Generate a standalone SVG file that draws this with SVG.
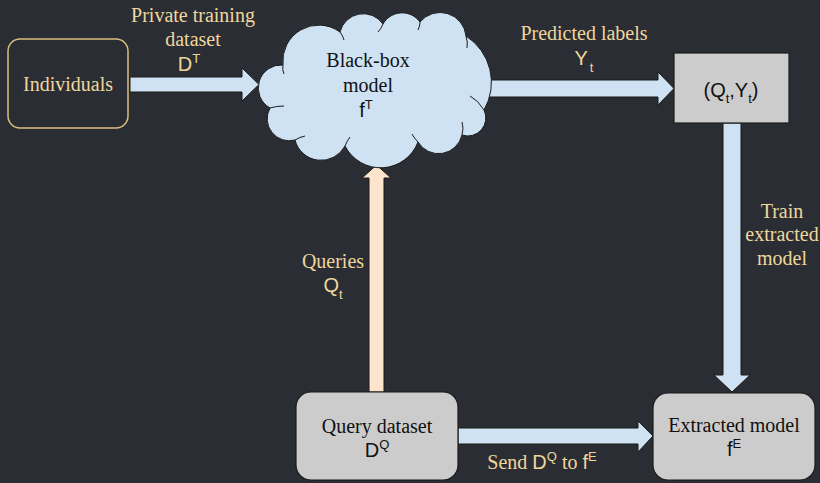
<svg xmlns="http://www.w3.org/2000/svg" width="820" height="483" viewBox="0 0 820 483">
<style>
.lbl{font-family:'Liberation Serif','DejaVu Serif',serif;font-size:20px;fill:#efd79c;text-anchor:middle}
.lbls{font-family:'Liberation Sans',Arial,sans-serif;font-size:20px;fill:#efd79c;text-anchor:middle}
.ntx{font-family:'Liberation Serif','DejaVu Serif',serif;font-size:20px;fill:#111;text-anchor:middle}
.nts{font-family:'Liberation Sans',Arial,sans-serif;font-size:20px;fill:#111;text-anchor:middle}
.ss{font-family:'Liberation Sans',Arial,sans-serif}
.sm{font-size:13px}
.blue{fill:#cfe2f3;stroke:#1b1b1b;stroke-width:1}
.peach{fill:#fde5cd;stroke:#1b1b1b;stroke-width:1}
.box{fill:#cccccc;stroke:#1b1b1b;stroke-width:1.2}
</style>
<rect width="820" height="483" fill="#2b2d34"/>
<g id="connectors">
<polygon class="blue" points="130,77 242,77 242,68 259,84.5 242,101 242,92 130,92"/>
<polygon class="blue" points="488,80 658,80 658,72 674,88.5 658,105 658,97 488,97"/>
<polygon class="blue" points="723,123 741,123 741,375 750,375 732,392 714,375 723,375"/>
<polygon class="peach" points="369,392 369,178 362,178 376.5,165 391,178 384,178 384,392"/>
<polygon class="blue" points="458,428 638,428 638,421 653,436 638,452 638,444 458,444"/>
<text class="lbl" x="193" y="22" font-family="Liberation Serif, serif">Private training</text>
<text class="lbl" x="193" y="46" font-family="Liberation Serif, serif">dataset</text>
<text class="lbls" x="189" y="71">D<tspan class="sm" dy="-8">T</tspan></text>
<text class="lbl" x="584" y="40" font-family="Liberation Serif, serif">Predicted labels</text>
<text class="lbls" x="584" y="65">Y<tspan class="sm" dy="7" dx="2">t</tspan></text>
<text class="lbl" x="782" y="218" font-family="Liberation Serif, serif">Train</text>
<text class="lbl" x="782" y="241" font-family="Liberation Serif, serif">extracted</text>
<text class="lbl" x="782" y="265" font-family="Liberation Serif, serif">model</text>
<text class="lbl" x="333" y="268" font-family="Liberation Serif, serif">Queries</text>
<text class="lbls" x="333" y="292">Q<tspan class="sm" dy="7">t</tspan></text>
<text class="lbl" x="542" y="469" font-family="Liberation Serif, serif">Send <tspan class="ss">D<tspan class="sm" dy="-8">Q</tspan></tspan><tspan dy="8"> to </tspan><tspan class="ss">f<tspan class="sm" dy="-8">E</tspan></tspan></text>
</g>
<g id="individuals">
<rect x="8" y="39" width="120" height="89" rx="12" fill="none" stroke="#d9bd7c" stroke-width="1.5"/>
<text class="lbl" x="68" y="91" font-family="Liberation Serif, serif">Individuals</text>
</g>
<g id="blackbox">
<path d="M283 65 A36 36 0 0 1 340 32 A24 24 0 0 1 383 24 A22 22 0 0 1 420 22 A26 26 0 0 1 466 36 A55 55 0 0 1 484 110 A18 18 0 0 1 462 135 A24 24 0 0 1 418 142 A40 40 0 0 1 345 146 A27 27 0 0 1 295 140 A22 22 0 0 1 270 108 A23 23 0 0 1 283 65 Z" fill="#cfe2f3" stroke="#1b1b1b" stroke-width="1"/>
<path d="M283 65 Q282 70 284 74 M340 32 Q343 36 344 40 M383 24 Q381 29 378 32 M420 22 Q420 26 418 30 M466 36 Q468 42 467 48 M484 110 Q478 100 470 96 M462 135 Q464 128 462 122 M418 142 Q414 138 412 134 M345 146 Q347 141 350 137 M295 140 Q300 137 305 136 M270 108 Q276 106 284 106" fill="none" stroke="#1b1b1b" stroke-width="1"/>
<text class="ntx" x="368" y="67" font-family="Liberation Serif, serif">Black-box</text>
<text class="ntx" x="368" y="92" font-family="Liberation Serif, serif">model</text>
<text class="nts" x="366" y="117">f<tspan class="sm" dy="-8">T</tspan></text>
</g>
<g id="qy">
<rect class="box" x="674" y="53" width="115" height="70"/>
<text class="nts" x="731" y="97">(Q<tspan class="sm" dy="6">t</tspan><tspan dy="-6">,Y</tspan><tspan class="sm" dy="6">t</tspan><tspan dy="-6">)</tspan></text>
</g>
<g id="query">
<rect class="box" x="296" y="392" width="162" height="88" rx="15"/>
<text class="ntx" x="377" y="433" font-family="Liberation Serif, serif">Query dataset</text>
<text class="nts" x="377" y="457">D<tspan class="sm" dy="-8">Q</tspan></text>
</g>
<g id="extracted">
<rect class="box" x="653" y="393" width="162" height="87" rx="15"/>
<text class="ntx" x="734" y="432" font-family="Liberation Serif, serif">Extracted model</text>
<text class="nts" x="734" y="456">f<tspan class="sm" dy="-8">E</tspan></text>
</g>
</svg>
